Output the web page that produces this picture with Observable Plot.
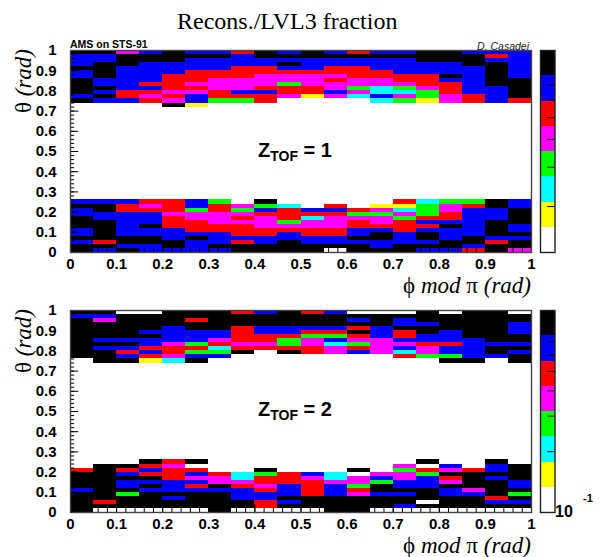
<!DOCTYPE html>
<html><head><meta charset="utf-8">
<script src="https://cdn.jsdelivr.net/npm/d3@7"></script>
<script src="https://cdn.jsdelivr.net/npm/@observablehq/plot@0.6"></script>
<style>
html,body{margin:0;padding:0;background:#fff}
#page{position:relative;width:602px;height:557px;overflow:hidden;background:#fff}
#page svg{position:absolute;background:transparent;overflow:visible}
.t{position:absolute;white-space:nowrap;line-height:1;color:#000}
.serif{font-family:"Liberation Serif",serif;font-size:23px}
.sans{font-family:"Liberation Sans",sans-serif;font-weight:bold}
i{font-style:italic}
sub{font-size:.7em;line-height:0;vertical-align:-.3em}
</style></head><body><div id="page"></div>
<script>
const levelNames = ["w","y","c","g","m","r","b","k"];
const levelColors = ["#ffffff","#ffff00","#00ffff","#00ff00","#ff00ff","#ff0000","#0000ff","#000000"];
const phiWidth = 0.05, thetaWidth = 0.02;
const majorTicks = [0,0.1,0.2,0.3,0.4,0.5,0.6,0.7,0.8,0.9,1];
const minorTicks = d3.range(0,51).map(d=>d/50);
const barTicks = [0.2,0.3,0.4,0.5,0.6,0.7];

// each row: 20 phi bins, letter = colour level; rows run downward in theta
const top1Rows = [
"kkmbkbbrkbkbrbbkkbbb","bbkkkkkbkkkkkkkkkkrb","bbkkkbbbbbbbbbbkkkbb","bkkbbbbbbkbbbbbbbkkb",
"kkbbbbbrrbbrrbbbbbkb","bkbbbrrrrrrrrrbbbbkb","bkbbrrrrmmmmrrrrkbkb","kbbbrrmmmmmrmmrrbbkk",
"kbbrrmmmmgmmmmmrrbkk","kkbbrrmmrrrmgcgmrbbk","kbrrmmrbbrrbmccgrbbk","bkrmrbrrrmymcbmgmrbk",
"kbbrmbggrwwwwcgymrbr","wwwwkywwwwwwwwwwwwww"];
const top2Rows = [
"bbbrrbgwkwwwwwrcggkb","kkrmrbrmgcwrwyygmrkb","bkrrrgrgbrbbrmcgmbbk","bbbbmmmmrrrrggmgrbbk",
"kbbbrmmrmrcmmmgrrbbk","kkbbrrmmmgmmrmrbbbkk","kkbkrrrrmmmmrrrrkbkb","bkbbbrrrrrrrbbrbbbkb",
"bkbbbbbrrbrrbkbkbbkk","kkkkbkbbbbbbkkbkbkbb","brkkkbbrbkbbbbbbkkrk","kkbbkbkkkkkkkbkkkbkk",
"kbkbbbbkkkkwkkkbbrkm"];
const bot1Rows = [
"kkwwkkkrbkrbwwwkwkkw","bbkkkkkkkkkkkkkkkkkk","kmkkkrkkkkkkbkbkkkkk","kkkkkkkkkkkkkkbbkkkb",
"kkkkbkkrbbbbrbkkkkkb","kkkbbbbrbbrrkbrkbkkb","kkkkbbbrrrggrbrbbkkk","kbbbbbmrrgmbmmbbbbkk",
"kkkbmgrmmgmcgmmrrbbb","kbbrrrcrrrrmrmbmbbkk","kkrbrggkwkrmbmcmbbkb","kkbrmbbwwwwwwwrggbbk",
"wkkyckwwwwwwwwwwkkwk"];
const bot2Rows = [
"wwwkrkwwwwwwwwwkwwkw","wkkrmwwwwwwwwwmwbwbk","rkrbrrwwkwwwkwgrmrbk","kkbrrbrcgrbcwmmgkkkk",
"kkkkrmmcrrmcmbmbrkbk","kkbbbbmmrrrmmgbbmkkb","kkbkbrkrmbrbgkbbkkkb","bkkbbbbbrbrbrkkkbmkk",
"kkgkkkkbbbrbmbbkbbkg","kkkkbkkbbkkkkkkkkkrk","krkkkkkkrbkkkkkwkkbb","kkkkkkkkrkkkkkbkkkkk",
"kwwwwwkwwwwkkwwwwwww"];

const page = document.getElementById("page");
const color = {type:"ordinal",domain:levelNames,range:levelColors};

function cells(rows,startIdx){
  const out=[];
  rows.forEach((r,i)=>{[...r].forEach((lv,j)=>{
    const hi=(startIdx-i)*thetaWidth;
    out.push({x1:j*phiWidth,x2:(j+1)*phiWidth,y1:hi-thetaWidth,y2:hi,level:lv});
  });});
  return out;
}
function fmt(d){return d===0?"0":d===1?"1":d3.format(".1f")(d);}

function panel(rowsUp,rowsLow,topPx){
  const pageH=290;
  const data=[...cells(rowsUp,50),...cells(rowsLow,13)];
  const p=Plot.plot({
    width:602,height:pageH,marginTop:50,marginBottom:pageH-252,marginLeft:70,marginRight:71,
    x:{domain:[0,1]},y:{domain:[0,1]},color,
    style:{fontFamily:"Liberation Sans",fontWeight:"bold",fontSize:"15px",color:"#000"},
    marks:[
      Plot.rect(data,{x1:"x1",x2:"x2",y1:"y1",y2:"y2",fill:"level",shapeRendering:"crispEdges"}),
      Plot.ruleX(minorTicks,{y1:0,y2:0.02,stroke:"#000",strokeWidth:1}),
      Plot.ruleX(majorTicks,{y1:0,y2:0.04,stroke:"#000",strokeWidth:1}),
      Plot.ruleY(minorTicks,{x1:0,x2:0.009,stroke:"#000",strokeWidth:1}),
      Plot.ruleY(majorTicks,{x1:0,x2:0.018,stroke:"#000",strokeWidth:1}),
      Plot.frame({stroke:"#444",strokeWidth:1.4}),
      Plot.axisX({ticks:majorTicks,tickSize:0,tickPadding:6,tickFormat:fmt,label:null}),
      Plot.axisY({ticks:majorTicks,tickSize:0,tickPadding:14,tickFormat:fmt,label:null})
    ]
  });
  p.style.left="0";p.style.top=topPx+"px";page.appendChild(p);
}
function colorbar(lo,topPx){
  const e=d3.range(0,9).map(i=>lo*Math.pow(1/lo,i/8));
  const bands=levelNames.map((lv,i)=>({y1:e[i],y2:e[i+1],level:lv}));
  const p=Plot.plot({
    width:62,height:290,marginTop:50,marginBottom:38,marginLeft:10,marginRight:37.5,
    x:{domain:[0,1],axis:null},y:{type:"log",domain:[lo,1],axis:null},color,
    marks:[
      Plot.rect(bands,{x1:0,x2:1,y1:"y1",y2:"y2",fill:"level",shapeRendering:"crispEdges"}),
      Plot.ruleY(barTicks,{x1:0.5,x2:1,stroke:"#000",strokeWidth:1}),
      Plot.frame({stroke:"#222",strokeWidth:1.4})
    ]
  });
  p.style.left="530px";p.style.top=topPx+"px";page.appendChild(p);
}
panel(top1Rows,top2Rows,0);
panel(bot1Rows,bot2Rows,260);
colorbar(0.1246,0);
colorbar(0.1,260);

function text(html,cls,css){const d=document.createElement("div");d.className="t "+cls;d.innerHTML=html;d.style.cssText+=css;page.appendChild(d);}
text("Recons./LVL3 fraction","serif","left:177px;top:9px;font-size:24px;");
text("AMS on STS-91","sans","left:70px;top:38.5px;font-size:10.5px;");
text("D. Casadei","","right:73px;top:39.5px;font:italic 10.5px 'Liberation Sans';color:#222;");
const xt="ϕ <i>mod</i> π <i>(rad)</i>", yt="θ <i>(rad)</i>";
[0,260].forEach(o=>{
  text(xt,"serif","right:71px;top:"+(o+274)+"px;");
  text(yt,"serif","left:12px;top:"+(o+49)+"px;writing-mode:vertical-rl;transform:rotate(180deg);");
});
text("Z<sub>TOF</sub> = 1","sans","left:258px;top:140px;font-size:20px;");
text("Z<sub>TOF</sub> = 2","sans","left:258px;top:399px;font-size:20px;");
text("10","sans","left:555px;top:504px;font-size:16px;");
text("-1","sans","left:583px;top:493px;font-size:11px;");
</script></body></html>
